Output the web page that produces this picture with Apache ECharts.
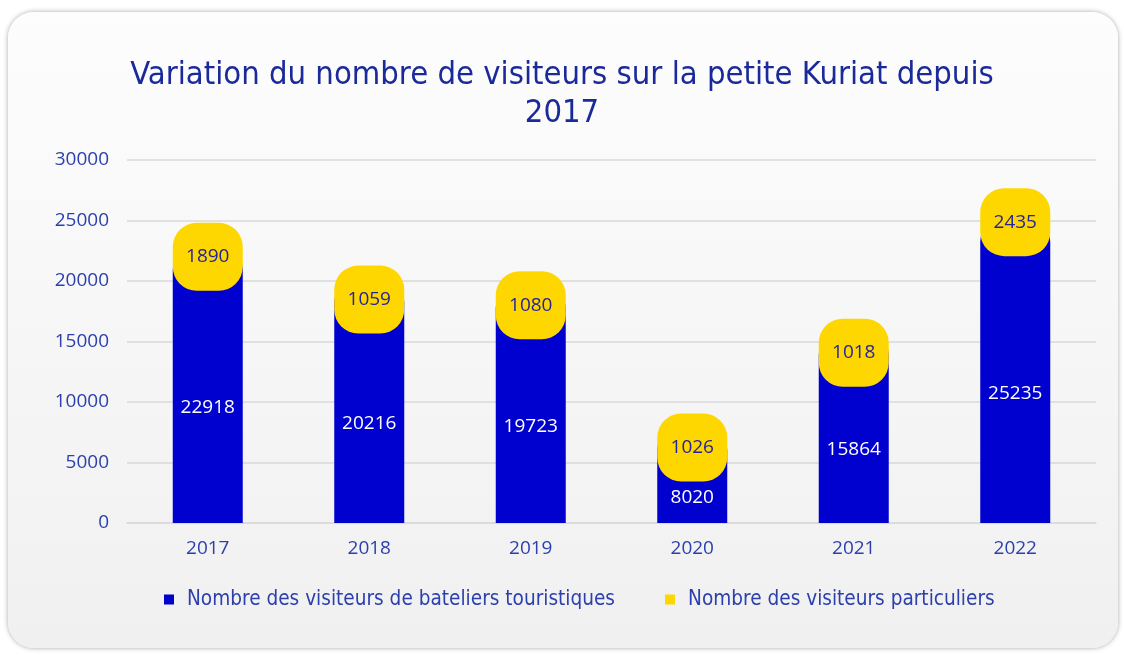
<!DOCTYPE html>
<html>
<head>
<meta charset="utf-8">
<script src="https://cdn.jsdelivr.net/npm/echarts@6/dist/echarts.min.js"></script>
<style>
  html, body { margin: 0; padding: 0; background: #fff; }
  #card {
    position: absolute; left: 8px; top: 12px; width: 1110px; height: 636px;
    border-radius: 26px;
    background: linear-gradient(to bottom, #fdfdfd, #f0f0f0);
    box-shadow: 0 0 5px rgba(0,0,0,0.35);
  }
  #main { position: absolute; left: 0; top: 0; width: 1124px; height: 655px; }
</style>
</head>
<body>
<div id="card"></div>
<div id="main"></div>
<script>
// donnees
var annees = ['2017', '2018', '2019', '2020', '2021', '2022'];
var bateliers = [22918, 20216, 19723, 8020, 15864, 25235];
var particuliers = [1890, 1059, 1080, 1026, 1018, 2435];

var titre = 'Variation du nombre de visiteurs sur la petite Kuriat depuis\n2017';
var nomBateliers = 'Nombre des visiteurs de bateliers touristiques';
var nomParticuliers = 'Nombre des visiteurs particuliers';

var bleu = '#0000CF';
var jaune = '#FFD700';
var texteBleu = '#2B3FAE';
var narrow = '"DejaVu Sans Condensed", "Liberation Sans Narrow", sans-serif';

var chart = echarts.init(document.getElementById('main'));

var option = {
  animation: false,
  backgroundColor: 'transparent',
  title: {
    text: titre,
    left: 'center',
    top: 52,
    textStyle: {
      color: '#1B2A9B',
      fontFamily: narrow,
      fontWeight: 'normal',
      fontSize: 32.5,
      lineHeight: 38
    }
  },
  legend: {
    bottom: 40,
    left: 159,
    itemWidth: 10,
    itemHeight: 10,
    itemGap: 50,
    icon: 'rect',
    textStyle: { color: texteBleu, fontFamily: narrow, fontSize: 20.6, padding: [0, 0, 0, 8] },
    data: [
      { name: nomBateliers, itemStyle: { color: bleu } },
      { name: nomParticuliers, itemStyle: { color: jaune } }
    ]
  },
  grid: { left: 127, right: 28, top: 160, bottom: 132 },
  xAxis: {
    type: 'category',
    data: annees,
    axisTick: { show: false },
    axisLine: { lineStyle: { color: '#d9d9d9', width: 1.5 } },
    axisLabel: { color: texteBleu, fontFamily: 'Open Sans', fontSize: 19, margin: 16 }
  },
  yAxis: {
    type: 'value',
    min: 0,
    max: 30000,
    interval: 5000,
    axisLine: { show: false },
    axisTick: { show: false },
    splitLine: { lineStyle: { color: '#d9d9d9', width: 1.5 } },
    axisLabel: {
      color: texteBleu, fontFamily: 'Open Sans', fontSize: 19, margin: 18,
      formatter: function (v) { return String(v); }
    }
  },
  series: [
    {
      name: nomBateliers,
      type: 'bar',
      stack: 'total',
      barWidth: 70,
      data: bateliers,
      // coins arrondis caches sous l'etiquette jaune
      itemStyle: { color: bleu, borderRadius: [24, 24, 0, 0] },
      label: {
        show: true,
        position: 'inside',
        offset: [0, 23],
        color: '#ffffff',
        fontFamily: 'Open Sans',
        fontSize: 19
      }
    },
    {
      name: nomParticuliers,
      type: 'bar',
      stack: 'total',
      barWidth: 70,
      data: particuliers,
      // le segment jaune est dessine par le fond de l'etiquette
      itemStyle: { color: 'rgba(0,0,0,0)' },
      label: {
        show: true,
        position: 'insideTop',
        distance: 0,
        width: 70,
        height: 68,
        lineHeight: 68,
        align: 'center',
        verticalAlign: 'top',
        backgroundColor: jaune,
        borderRadius: 24,
        color: '#25239A',
        fontFamily: 'Open Sans',
        fontSize: 19
      }
    }
  ]
};

chart.setOption(option);
</script>
</body>
</html>
